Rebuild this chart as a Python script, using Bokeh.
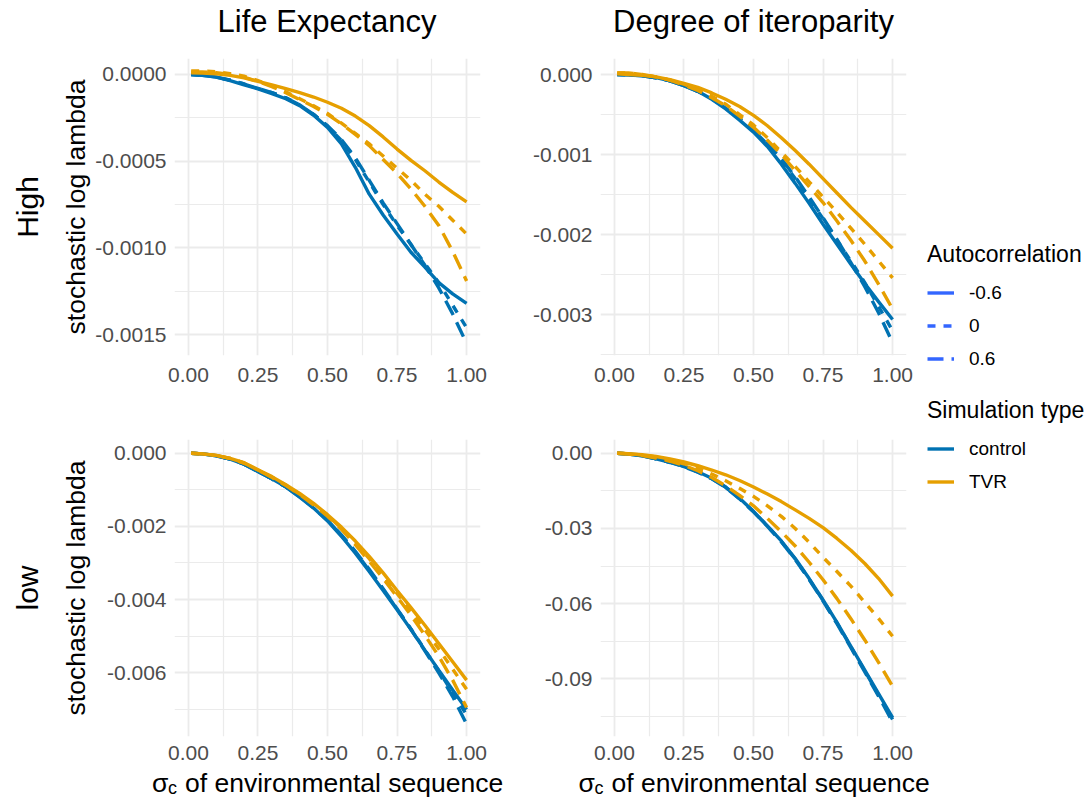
import math
from bokeh.plotting import figure
from bokeh.models import (Range1d, FixedTicker, NumeralTickFormatter, Label,
                          Legend, LegendItem)
from bokeh.layouts import row, column
from bokeh.embed import file_html
from bokeh.resources import INLINE

# ---------------- data ----------------
sigma = [0.01, 0.05, 0.10, 0.15, 0.20, 0.25, 0.30, 0.35, 0.40, 0.45, 0.50,
         0.55, 0.60, 0.65, 0.70, 0.75, 0.80, 0.85, 0.90, 0.95, 1.00]

autocorrelation_levels = ["-0.6", "0", "0.6"]
simulation_types = ["control", "TVR"]
column_titles = ["Life Expectancy", "Degree of iteroparity"]
row_titles = ["High", "low"]
y_title = "stochastic log lambda"
x_title_symbol, x_title_subscript, x_title_rest = "σ", "c", "of environmental sequence"
x_ticks = [0.0, 0.25, 0.5, 0.75, 1.0]
x_minor = [0.125, 0.375, 0.625, 0.875]

# High / Life Expectancy
hi_le_control_m06 = [0.0, -0.05e-4, -0.15e-4, -0.35e-4, -0.6e-4, -0.83e-4, -1.1e-4, -1.4e-4, -1.8e-4, -2.35e-4, -3.05e-4,
                     -4.0e-4, -5.35e-4, -6.9e-4, -8.1e-4, -9.2e-4, -10.25e-4, -11.1e-4, -12.0e-4, -12.65e-4, -13.2e-4]
hi_le_control_0 = [0.0, -0.05e-4, -0.15e-4, -0.33e-4, -0.55e-4, -0.8e-4, -1.05e-4, -1.35e-4, -1.75e-4, -2.3e-4, -3.0e-4,
                   -3.8e-4, -4.9e-4, -6.2e-4, -7.5e-4, -8.7e-4, -9.8e-4, -10.9e-4, -12.0e-4, -13.3e-4, -14.6e-4]
hi_le_control_p06 = [0.0, -0.05e-4, -0.15e-4, -0.33e-4, -0.55e-4, -0.8e-4, -1.05e-4, -1.35e-4, -1.75e-4, -2.3e-4, -2.95e-4,
                     -3.75e-4, -4.8e-4, -6.1e-4, -7.4e-4, -8.6e-4, -9.8e-4, -11.0e-4, -12.3e-4, -13.8e-4, -15.5e-4]
hi_le_tvr_m06 = [0.1e-4, 0.08e-4, 0.04e-4, -0.05e-4, -0.2e-4, -0.4e-4, -0.6e-4, -0.82e-4, -1.05e-4, -1.3e-4, -1.6e-4,
                 -1.95e-4, -2.4e-4, -2.95e-4, -3.6e-4, -4.3e-4, -4.95e-4, -5.55e-4, -6.2e-4, -6.8e-4, -7.35e-4]
hi_le_tvr_0 = [0.2e-4, 0.2e-4, 0.15e-4, 0.05e-4, -0.1e-4, -0.35e-4, -0.65e-4, -1.0e-4, -1.4e-4, -1.8e-4, -2.25e-4,
               -2.8e-4, -3.4e-4, -4.0e-4, -4.7e-4, -5.4e-4, -6.1e-4, -6.9e-4, -7.6e-4, -8.4e-4, -9.2e-4]
hi_le_tvr_p06 = [0.15e-4, 0.15e-4, 0.1e-4, 0.0, -0.15e-4, -0.4e-4, -0.7e-4, -1.05e-4, -1.45e-4, -1.85e-4, -2.3e-4,
                 -2.85e-4, -3.45e-4, -4.1e-4, -4.9e-4, -5.7e-4, -6.6e-4, -7.6e-4, -8.7e-4, -10.2e-4, -11.9e-4]

# High / Degree of iteroparity
hi_it_control_m06 = [0.0, -0.005e-3, -0.015e-3, -0.04e-3, -0.08e-3, -0.14e-3, -0.21e-3, -0.31e-3, -0.43e-3, -0.57e-3, -0.72e-3,
                     -0.9e-3, -1.12e-3, -1.36e-3, -1.61e-3, -1.87e-3, -2.12e-3, -2.37e-3, -2.61e-3, -2.84e-3, -3.06e-3]
hi_it_control_0 = [0.0, -0.005e-3, -0.015e-3, -0.04e-3, -0.08e-3, -0.14e-3, -0.21e-3, -0.3e-3, -0.42e-3, -0.55e-3, -0.7e-3,
                   -0.87e-3, -1.07e-3, -1.3e-3, -1.55e-3, -1.8e-3, -2.07e-3, -2.33e-3, -2.6e-3, -2.9e-3, -3.2e-3]
hi_it_control_p06 = [0.0, -0.005e-3, -0.015e-3, -0.04e-3, -0.08e-3, -0.14e-3, -0.21e-3, -0.3e-3, -0.42e-3, -0.55e-3, -0.69e-3,
                     -0.86e-3, -1.05e-3, -1.28e-3, -1.53e-3, -1.79e-3, -2.06e-3, -2.35e-3, -2.65e-3, -2.98e-3, -3.35e-3]
hi_it_tvr_m06 = [0.01e-3, 0.0, -0.01e-3, -0.03e-3, -0.065e-3, -0.11e-3, -0.16e-3, -0.23e-3, -0.31e-3, -0.4e-3, -0.51e-3,
                 -0.64e-3, -0.79e-3, -0.95e-3, -1.12e-3, -1.3e-3, -1.48e-3, -1.66e-3, -1.83e-3, -2.0e-3, -2.17e-3]
hi_it_tvr_0 = [0.02e-3, 0.02e-3, 0.0, -0.03e-3, -0.07e-3, -0.12e-3, -0.19e-3, -0.27e-3, -0.37e-3, -0.5e-3, -0.63e-3,
               -0.79e-3, -0.97e-3, -1.15e-3, -1.34e-3, -1.53e-3, -1.72e-3, -1.92e-3, -2.12e-3, -2.33e-3, -2.54e-3]
hi_it_tvr_p06 = [0.02e-3, 0.02e-3, 0.0, -0.03e-3, -0.07e-3, -0.13e-3, -0.2e-3, -0.29e-3, -0.39e-3, -0.52e-3, -0.66e-3,
                 -0.82e-3, -1.0e-3, -1.2e-3, -1.4e-3, -1.6e-3, -1.83e-3, -2.07e-3, -2.33e-3, -2.62e-3, -2.93e-3]

# low / Life Expectancy
lo_le_control_m06 = [0.0, -0.02e-3, -0.07e-3, -0.16e-3, -0.3e-3, -0.5e-3, -0.7e-3, -0.92e-3, -1.2e-3, -1.5e-3, -1.85e-3,
                     -2.27e-3, -2.73e-3, -3.23e-3, -3.75e-3, -4.28e-3, -4.82e-3, -5.38e-3, -5.93e-3, -6.47e-3, -7.0e-3]
lo_le_control_0 = [0.0, -0.02e-3, -0.07e-3, -0.16e-3, -0.3e-3, -0.5e-3, -0.7e-3, -0.92e-3, -1.19e-3, -1.49e-3, -1.83e-3,
                   -2.25e-3, -2.7e-3, -3.2e-3, -3.72e-3, -4.26e-3, -4.8e-3, -5.37e-3, -5.95e-3, -6.55e-3, -7.15e-3]
lo_le_control_p06 = [0.0, -0.02e-3, -0.07e-3, -0.16e-3, -0.3e-3, -0.5e-3, -0.7e-3, -0.92e-3, -1.19e-3, -1.48e-3, -1.82e-3,
                     -2.23e-3, -2.68e-3, -3.17e-3, -3.7e-3, -4.25e-3, -4.81e-3, -5.4e-3, -6.0e-3, -6.65e-3, -7.4e-3]
lo_le_tvr_m06 = [0.0, -0.02e-3, -0.06e-3, -0.14e-3, -0.26e-3, -0.45e-3, -0.64e-3, -0.86e-3, -1.1e-3, -1.37e-3, -1.68e-3,
                 -2.02e-3, -2.4e-3, -2.82e-3, -3.27e-3, -3.75e-3, -4.22e-3, -4.7e-3, -5.2e-3, -5.7e-3, -6.2e-3]
lo_le_tvr_0 = [0.0, -0.02e-3, -0.06e-3, -0.14e-3, -0.27e-3, -0.46e-3, -0.65e-3, -0.87e-3, -1.12e-3, -1.4e-3, -1.7e-3,
               -2.05e-3, -2.45e-3, -2.88e-3, -3.35e-3, -3.83e-3, -4.32e-3, -4.82e-3, -5.35e-3, -5.9e-3, -6.45e-3]
lo_le_tvr_p06 = [0.0, -0.02e-3, -0.06e-3, -0.14e-3, -0.27e-3, -0.46e-3, -0.66e-3, -0.88e-3, -1.13e-3, -1.41e-3, -1.72e-3,
                 -2.08e-3, -2.5e-3, -2.95e-3, -3.42e-3, -3.92e-3, -4.43e-3, -4.97e-3, -5.55e-3, -6.2e-3, -6.95e-3]

# low / Degree of iteroparity
lo_it_control_m06 = [0.0, -0.03e-2, -0.1e-2, -0.22e-2, -0.36e-2, -0.52e-2, -0.74e-2, -1.0e-2, -1.35e-2, -1.8e-2, -2.32e-2,
                     -2.9e-2, -3.5e-2, -4.2e-2, -5.0e-2, -5.85e-2, -6.75e-2, -7.7e-2, -8.65e-2, -9.6e-2, -10.55e-2]
lo_it_control_0 = [0.0, -0.03e-2, -0.1e-2, -0.22e-2, -0.36e-2, -0.53e-2, -0.75e-2, -1.01e-2, -1.36e-2, -1.81e-2, -2.33e-2,
                   -2.91e-2, -3.52e-2, -4.22e-2, -5.02e-2, -5.87e-2, -6.77e-2, -7.72e-2, -8.68e-2, -9.65e-2, -10.62e-2]
lo_it_control_p06 = [0.0, -0.03e-2, -0.1e-2, -0.22e-2, -0.37e-2, -0.54e-2, -0.76e-2, -1.02e-2, -1.37e-2, -1.82e-2, -2.34e-2,
                     -2.92e-2, -3.53e-2, -4.24e-2, -5.04e-2, -5.9e-2, -6.8e-2, -7.76e-2, -8.72e-2, -9.7e-2, -10.72e-2]
lo_it_tvr_m06 = [0.0, -0.02e-2, -0.06e-2, -0.13e-2, -0.23e-2, -0.35e-2, -0.5e-2, -0.67e-2, -0.86e-2, -1.09e-2, -1.35e-2,
                 -1.63e-2, -1.93e-2, -2.26e-2, -2.6e-2, -2.97e-2, -3.4e-2, -3.87e-2, -4.4e-2, -5.0e-2, -5.7e-2]
lo_it_tvr_0 = [0.0, -0.02e-2, -0.07e-2, -0.15e-2, -0.27e-2, -0.42e-2, -0.6e-2, -0.83e-2, -1.1e-2, -1.4e-2, -1.72e-2,
               -2.1e-2, -2.52e-2, -3.0e-2, -3.55e-2, -4.15e-2, -4.72e-2, -5.3e-2, -5.95e-2, -6.6e-2, -7.3e-2]
lo_it_tvr_p06 = [0.0, -0.03e-2, -0.09e-2, -0.19e-2, -0.32e-2, -0.48e-2, -0.7e-2, -0.97e-2, -1.3e-2, -1.68e-2, -2.1e-2,
                 -2.6e-2, -3.13e-2, -3.7e-2, -4.35e-2, -5.05e-2, -5.8e-2, -6.6e-2, -7.45e-2, -8.35e-2, -9.3e-2]

hi_le_yticks = [0.0, -0.0005, -0.0010, -0.0015]
hi_le_yminor = [-0.00025, -0.00075, -0.00125]
hi_it_yticks = [0.0, -0.001, -0.002, -0.003]
hi_it_yminor = [-0.0005, -0.0015, -0.0025, -0.0035]
lo_le_yticks = [0.0, -0.002, -0.004, -0.006]
lo_le_yminor = [-0.001, -0.003, -0.005, -0.007]
lo_it_yticks = [0.0, -0.03, -0.06, -0.09]
lo_it_yminor = [-0.015, -0.045, -0.075, -0.105]

# ---------------- style ----------------
FONT = "Liberation Sans"
COLORS = {"control": "#0072B2", "TVR": "#E69F00"}
DASHES = {"-0.6": "solid", "0": "8 8", "0.6": "16 8"}
LW = 3.4
GRID = "#EBEBEB"


def make_panel(fig_w, fig_h, borders, yr, yticks, yminor, yfmt, series, x_standoff):
    bl, br, bt, bb = borders
    p = figure(width=fig_w, height=fig_h, x_range=Range1d(-0.05, 1.05),
               y_range=Range1d(*yr), toolbar_location=None, output_backend="svg",
               min_border_left=bl, min_border_right=br, min_border_top=bt,
               min_border_bottom=bb)
    p.outline_line_color = None
    p.xaxis.ticker = FixedTicker(ticks=x_ticks, minor_ticks=x_minor)
    p.yaxis.ticker = FixedTicker(ticks=yticks, minor_ticks=yminor)
    p.xaxis.formatter = NumeralTickFormatter(format="0.00")
    p.yaxis.formatter = NumeralTickFormatter(format=yfmt)
    for ax in (p.xaxis, p.yaxis):
        ax.axis_line_color = None
        ax.major_tick_line_color = None
        ax.minor_tick_line_color = None
        ax.major_tick_out = 0
        ax.major_tick_in = 0
        ax.minor_tick_out = 0
        ax.minor_tick_in = 0
        ax.major_label_text_font = FONT
        ax.major_label_text_font_size = "21px"
        ax.major_label_text_color = "#4D4D4D"
    p.xaxis.major_label_standoff = x_standoff
    p.yaxis.major_label_standoff = 8
    for g in (p.xgrid, p.ygrid):
        g.grid_line_color = GRID
        g.grid_line_width = 1.8
        g.minor_grid_line_color = GRID
        g.minor_grid_line_width = 1.2
    for sim in simulation_types:
        for lvl in autocorrelation_levels:
            p.line(sigma, series[sim][lvl], line_color=COLORS[sim], line_width=LW,
                   line_dash=DASHES[lvl])
    return p


def strip(w, h, xr, yr):
    s = figure(width=w, height=h, x_range=Range1d(*xr), y_range=Range1d(*yr),
               x_axis_location=None, y_axis_location=None, toolbar_location=None,
               output_backend="svg", min_border=0, min_border_left=0, min_border_right=0,
               min_border_top=0, min_border_bottom=0)
    s.outline_line_color = None
    s.grid.visible = False
    return s


def add_text(p, x, y, text, size, angle=0.0, align="center"):
    p.add_layout(Label(x=x, y=y, text=text, text_font=FONT, text_font_size=size,
                       text_color="black", text_align=align, text_baseline="middle",
                       angle=angle))


TL = make_panel(428, 337, (81, 40, 0, 40), (-0.00162, 0.000092),
                hi_le_yticks, hi_le_yminor, "0.0000",
                {"control": {"-0.6": hi_le_control_m06, "0": hi_le_control_0, "0.6": hi_le_control_p06},
                 "TVR": {"-0.6": hi_le_tvr_m06, "0": hi_le_tvr_0, "0.6": hi_le_tvr_p06}}, 12)
TR = make_panel(395, 337, (80, 9, 0, 40), (-0.00351, 0.0002),
                hi_it_yticks, hi_it_yminor, "0.000",
                {"control": {"-0.6": hi_it_control_m06, "0": hi_it_control_0, "0.6": hi_it_control_p06},
                 "TVR": {"-0.6": hi_it_tvr_m06, "0": hi_it_tvr_0, "0.6": hi_it_tvr_p06}}, 12)
BL = make_panel(428, 373, (81, 40, 44, 32), (-0.00774, 0.000374),
                lo_le_yticks, lo_le_yminor, "0.000",
                {"control": {"-0.6": lo_le_control_m06, "0": lo_le_control_0, "0.6": lo_le_control_p06},
                 "TVR": {"-0.6": lo_le_tvr_m06, "0": lo_le_tvr_0, "0.6": lo_le_tvr_p06}}, 9)
BR = make_panel(395, 373, (80, 9, 44, 32), (-0.1130, 0.00547),
                lo_it_yticks, lo_it_yminor, "0.00",
                {"control": {"-0.6": lo_it_control_m06, "0": lo_it_control_0, "0.6": lo_it_control_p06},
                 "TVR": {"-0.6": lo_it_tvr_m06, "0": lo_it_tvr_0, "0.6": lo_it_tvr_p06}}, 9)

# text strips (ranges are page pixels so labels sit where the reference has them)
LEFT = strip(92, 798, (0, 92), (798, 0))
TOP = strip(823, 58, (92, 915), (58, 0))
BOTTOM = strip(997, 30, (92, 1089), (798, 768))

add_text(TOP, 326.5, 20.5, column_titles[0], "31px")
add_text(TOP, 753, 20.5, column_titles[1], "31px")
add_text(LEFT, 27, 206.5, row_titles[0], "30px", angle=math.pi / 2)
add_text(LEFT, 27, 587.5, row_titles[1], "30px", angle=math.pi / 2)
add_text(LEFT, 75, 206.5, y_title, "26.5px", angle=math.pi / 2)
add_text(LEFT, 75, 587.5, y_title, "26.5px", angle=math.pi / 2)
for cx in (326.5, 753.0):
    add_text(BOTTOM, cx - 175, 782.8, x_title_symbol, "26.5px", align="left")
    add_text(BOTTOM, cx - 159, 787.8, x_title_subscript, "18px", align="left")
    add_text(BOTTOM, cx - 142, 782.8, x_title_rest, "26.5px", align="left")

# ---------------- legends ----------------
LEG = strip(174, 768, (0, 1), (10, 11))   # legend keys' renderers lie outside this view

items1 = []
for lvl, ys in zip(autocorrelation_levels, (hi_le_control_m06, hi_le_control_0, hi_le_control_p06)):
    r = LEG.line(sigma, ys, line_color="#3366FF", line_width=LW, line_dash=DASHES[lvl])
    items1.append(LegendItem(label=lvl, renderers=[r]))
items2 = []
for sim, ys in zip(simulation_types, (hi_le_control_m06, hi_le_tvr_m06)):
    r = LEG.line(sigma, ys, line_color=COLORS[sim], line_width=LW)
    items2.append(LegendItem(label=sim, renderers=[r]))


def style_legend(lg):
    lg.title_text_font = FONT
    lg.title_text_font_size = "23px"
    lg.title_text_font_style = "normal"
    lg.title_text_color = "black"
    lg.label_text_font = FONT
    lg.label_text_font_size = "19px"
    lg.label_text_color = "black"
    lg.glyph_width = 27
    lg.glyph_height = 33
    lg.label_height = 33
    lg.label_standoff = 15
    lg.spacing = 0
    lg.padding = 0
    lg.margin = 0
    lg.title_standoff = 8
    lg.border_line_color = None
    lg.background_fill_alpha = 0


leg1 = Legend(items=items1, title="Autocorrelation", location=(12, 393))
leg2 = Legend(items=items2, title="Simulation type", location=(12, 270))
style_legend(leg1)
style_legend(leg2)
LEG.add_layout(leg1)
LEG.add_layout(leg2)

panels = row(column(TL, BL), column(TR, BR))
upper = row(column(TOP, panels), LEG)
page = row(LEFT, column(upper, BOTTOM))
open("out.html", "w").write(file_html(page, INLINE))
